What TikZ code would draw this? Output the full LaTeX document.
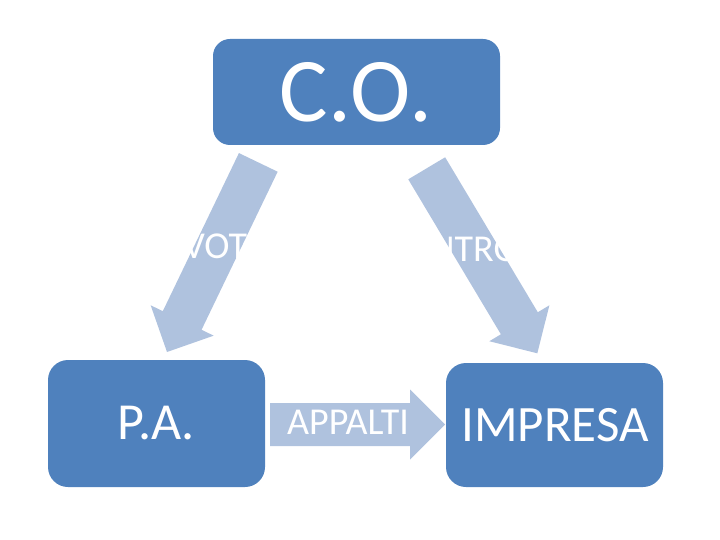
\documentclass[tikz,border=0pt]{standalone}
\usepackage{fontspec}
\setmainfont{Carlito}
\usetikzlibrary{calc}
\definecolor{boxblue}{HTML}{4F81BD}
\definecolor{arrowblue}{HTML}{AFC2DE}
\tikzset{
  box/.style={draw=none, fill=boxblue, rounded corners=#1},
  arrowfill/.style={fill=arrowblue},
  lbl/.style={text=white, inner sep=0pt, anchor=base},
}
\newcommand{\blkarrow}[2]{%
  \coordinate (hb) at ($(#2)!35pt!(#1)$);
  \fill[arrowfill] ($(#1)!21.5pt!90:(#2)$) -- ($(hb)!21.5pt!-90:(#1)$) --
    ($(hb)!35pt!-90:(#1)$) -- (#2) -- ($(hb)!35pt!90:(#1)$) --
    ($(hb)!21.5pt!90:(#1)$) -- ($(#1)!21.5pt!-90:(#2)$) -- cycle;}
\begin{document}
\begin{tikzpicture}[x=1pt,y=-1pt]
\useasboundingbox (0,0) rectangle (720,540);
% arrow end points
\coordinate (vs) at (258.3,162.4);
\coordinate (vt) at (167,352);
\coordinate (cs) at (426.7,168.3);
\coordinate (ct) at (537.3,353.3);
\coordinate (as) at (270,424.5);
\coordinate (at) at (445,424.5);
\blkarrow{vs}{vt}
\blkarrow{cs}{ct}
\blkarrow{as}{at}
% boxes
\fill[box=17pt] (213,39) rectangle (500,145);
\fill[box=20pt] (48,360) rectangle (265,487);
\fill[box=20pt] (446,363) rectangle (663,487);
% texts
\node[lbl, font=\fontsize{91}{100}\selectfont] (co) at (356,121.7) {C.O.};
\node[lbl, font=\fontsize{52}{58}\selectfont] (pa) at (156.5,439) {P.A.};
\node[lbl, font=\fontsize{51}{58}\selectfont] (imp) at (555,441.7) {IMPRESA};
\node[lbl, font=\fontsize{38}{44}\selectfont] (app) at (348,434) {APPALTI};
\node[lbl, font=\fontsize{38}{44}\selectfont] (voti) at (220,258.3) {VOTI};
\node[lbl, font=\fontsize{38}{44}\selectfont] (ctrl) at (480,261.7) {CONTROLLO};
\end{tikzpicture}
\end{document}
